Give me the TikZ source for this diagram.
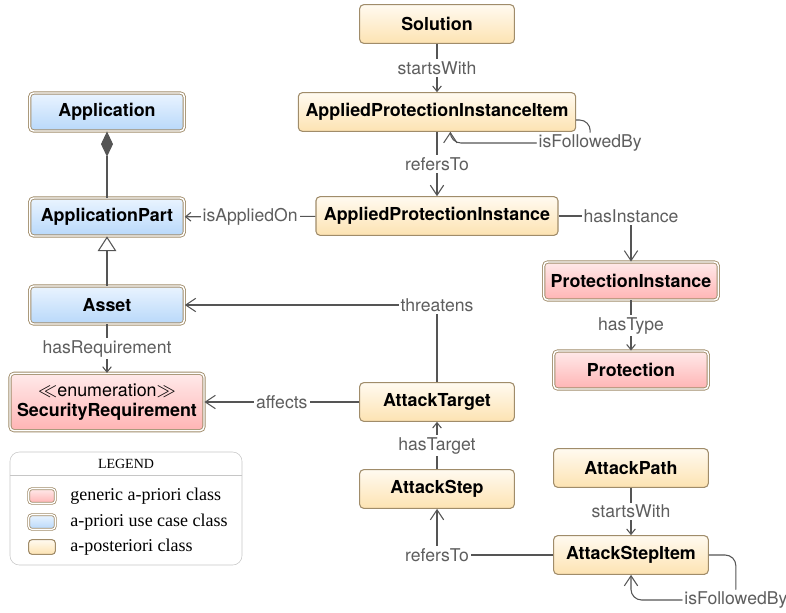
\documentclass[tikz,border=0pt]{standalone}
\usepackage{fontspec}
\setmainfont{Liberation Serif}
\newfontfamily\helv{TeX Gyre Heros}
\usepackage{tikz}
\usetikzlibrary{arrows.meta, positioning, calc}
\definecolor{clsborder}{HTML}{A08C6A}
\definecolor{posttop}{HTML}{FFFAF0}
\definecolor{postbot}{HTML}{FDE3B2}
\definecolor{usetop}{HTML}{EAF4FF}
\definecolor{usebot}{HTML}{B8D8FA}
\definecolor{gentop}{HTML}{FFEAEA}
\definecolor{genbot}{HTML}{FFB4B4}
\definecolor{linegray}{HTML}{555555}
\definecolor{lblgray}{HTML}{5E5E5E}
\definecolor{legendline}{HTML}{C6C6C6}

\begin{document}
\begin{tikzpicture}[x=0.75pt, y=-0.75pt,
    cls/.style={rectangle, rounded corners=3pt, draw=clsborder, line width=0.8pt,
                font=\helv\bfseries\fontsize{13.4}{15}\selectfont, align=center,
                inner sep=2pt, minimum width=116pt, minimum height=29pt},
    post/.style={cls, top color=posttop, bottom color=postbot},
    prio/.style={cls, double=white, double distance=1.1pt, line width=0.65pt,
                 minimum height=28.5pt},
    usecase/.style={prio, top color=usetop, bottom color=usebot},
    generic/.style={prio, top color=gentop, bottom color=genbot},
    lbl/.style={fill=white, text=lblgray, font=\helv\fontsize{13.2}{15}\selectfont, inner sep=1.5pt},
    conn/.style={draw=linegray, line width=0.8pt, -{Straight Barb[length=7.5pt, width=10pt]}},
    shortconn/.style={draw=linegray, line width=0.8pt, -{Straight Barb[length=4pt, width=6.5pt]}},
    swatch/.style={rectangle, rounded corners=2.5pt, draw=clsborder, minimum width=20pt, minimum height=11pt, inner sep=0pt},
    legtext/.style={anchor=west, font=\fontsize{13.5}{15}\selectfont, inner sep=0pt}
]
\useasboundingbox (0,0) rectangle (786,612);

% a-priori classes
\node[usecase] (app) at (107,112) {Application};
\node[usecase] (appart) at (107,217) {ApplicationPart};
\node[usecase] (asset) at (107,305) {Asset};
\node[generic, minimum width=145.5pt, minimum height=43pt] (secreq) at (107,402)
    {\mdseries$\ll$enumeration$\gg$\\SecurityRequirement};
\node[generic, minimum width=131pt] (protinst) at (631,281) {ProtectionInstance};
\node[generic] (prot) at (631,370) {Protection};

% a-posteriori classes
\node[post] (solution) at (437,24) {Solution};
\node[post, minimum width=208pt] (apitem) at (437,112) {AppliedProtectionInstanceItem};
\node[post, minimum width=181.5pt] (apinst) at (437,216) {AppliedProtectionInstance};
\node[post] (target) at (437,402) {AttackTarget};
\node[post] (step) at (437,489) {AttackStep};
\node[post] (path) at (631,468) {AttackPath};
\node[post] (stepitem) at (631,555) {AttackStepItem};

% composition and generalisation
\draw[draw=linegray, line width=0.8pt, {Diamond[fill=linegray, length=19pt, width=9pt]}-] (app) -- (appart);
\draw[draw=linegray, line width=0.8pt, -{Triangle[open, fill=white, length=11pt, width=14pt]}] (asset) -- (appart);

% associations
\draw[shortconn] (solution) -- node[lbl] {startsWith} (apitem);
\draw[conn, rounded corners=8pt] ([yshift=-6pt]apitem.east) -| ++(14,23) node[lbl] {isFollowedBy}
    -| ([xshift=10pt]apitem.south);
\draw[conn] (apitem) -- node[lbl] {refersTo} (apinst);
\draw[shortconn] (apinst) -- node[lbl] {isAppliedOn} (appart);
\draw[conn] (apinst) -| node[lbl] {hasInstance} (protinst);
\draw[shortconn] (protinst) -- node[lbl] {hasType} (prot);
\draw[conn] (target) |- node[lbl] {threatens} (asset);
\draw[shortconn] (asset) -- node[lbl] {hasRequirement} (secreq);
\draw[conn] (target) -- node[lbl] {affects} (secreq);
\draw[shortconn] (step) -- node[lbl] {hasTarget} (target);
\draw[shortconn] (path) -- node[lbl] {startsWith} (stepitem);
\draw[conn] (stepitem) -| node[lbl] {refersTo} (step);
\draw[conn, rounded corners=8pt] (stepitem.east) -| ++(27,45) node[lbl] {isFollowedBy} -| (stepitem.south);

% legend
\draw[legendline, rounded corners=7pt] (10,452) rectangle (242,565);
\draw[legendline] (10,475) -- (242,475);
\node[font=\fontsize{10.5}{12}\selectfont] (legtitle) at (126,464) {LEGEND};
\node[swatch, double=white, double distance=0.9pt, line width=0.6pt, top color=gentop, bottom color=genbot] (swgen) at (42,496) {};
\node[swatch, double=white, double distance=0.9pt, line width=0.6pt, top color=usetop, bottom color=usebot] (swuse) at (42,522) {};
\node[swatch, line width=0.8pt, top color=posttop, bottom color=postbot] (swpost) at (42,547) {};
\node[legtext] (lgen) at (70,496) {generic a-priori class};
\node[legtext] (luse) at (70,522) {a-priori use case class};
\node[legtext] (lpost) at (70,547) {a-posteriori class};

\end{tikzpicture}
\end{document}
